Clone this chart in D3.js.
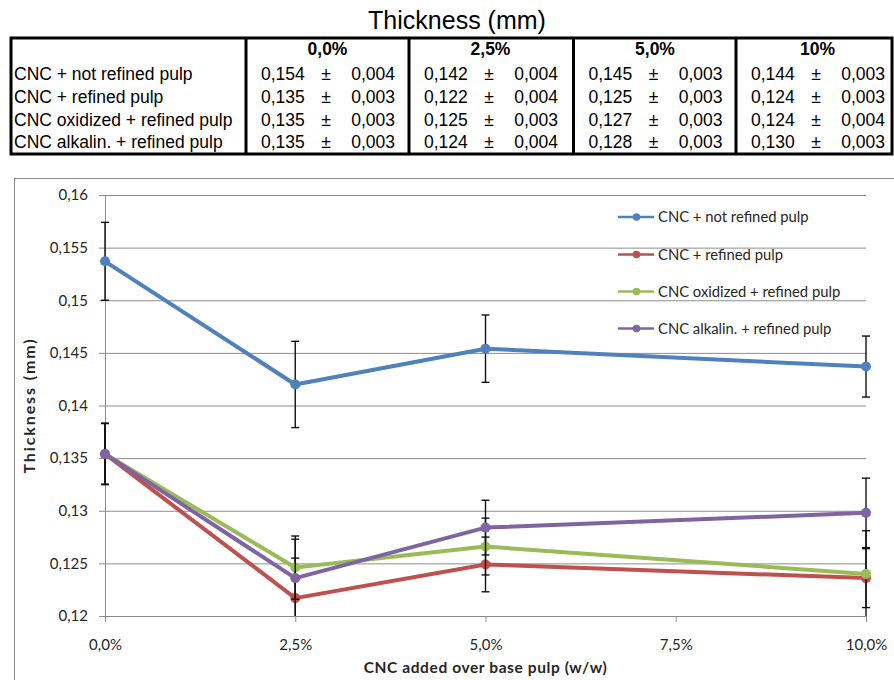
<!DOCTYPE html>
<html>
<head>
<meta charset="utf-8">
<script src="https://cdn.jsdelivr.net/npm/d3@7"></script>
<style>
  body { margin: 0; background: #fff; }
  svg { display: block; }
</style>
</head>
<body>
<div id="container"></div>
<script>
/* DATA */
const seriesNames = ["CNC + not refined pulp", "CNC + refined pulp", "CNC oxidized + refined pulp", "CNC alkalin. + refined pulp"];
const colors = ["#4F81BD", "#C0504D", "#9BBB59", "#8064A2"];
const cncLevels = [0, 2.5, 5, 10];
const xTicks = [0, 2.5, 5, 7.5, 10];
const yTicks = [0.12, 0.125, 0.13, 0.135, 0.14, 0.145, 0.15, 0.155, 0.16];

// plotted means and standard deviations
const notRefined = [0.1537, 0.1420, 0.1454, 0.1437];
const notRefinedSd = [0.0037, 0.0041, 0.0032, 0.0029];
const refined = [0.1354, 0.1217, 0.1249, 0.1236];
const refinedSd = [0.0029, 0.0038, 0.0026, 0.0028];
const oxidized = [0.1354, 0.1246, 0.1266, 0.1240];
const oxidizedSd = [0.0029, 0.0030, 0.0027, 0.0041];
const alkalin = [0.1354, 0.1236, 0.1284, 0.1298];
const alkalinSd = [0.0029, 0.0037, 0.0026, 0.0033];

// table (as printed)
const tableHeaders = ["0,0%", "2,5%", "5,0%", "10%"];
const tableMeans = [
  ["0,154", "0,142", "0,145", "0,144"],
  ["0,135", "0,122", "0,125", "0,124"],
  ["0,135", "0,125", "0,127", "0,124"],
  ["0,135", "0,124", "0,128", "0,130"]
];
const tableSd = [
  ["0,004", "0,004", "0,003", "0,003"],
  ["0,003", "0,004", "0,003", "0,003"],
  ["0,003", "0,003", "0,003", "0,004"],
  ["0,003", "0,004", "0,003", "0,003"]
];

const seriesValues = [notRefined, refined, oxidized, alkalin];
const seriesSd = [notRefinedSd, refinedSd, oxidizedSd, alkalinSd];

/* CONSTANTS */
const width = 894;
const height = 680;
const plot = { left: 105, right: 866, top: 195, bottom: 616 };
const chartFont = "Lato, 'Open Sans', sans-serif";
const tableFont = "'Liberation Sans', Arial, sans-serif";

const svg = d3.select("#container").append("svg")
  .attr("width", width)
  .attr("height", height);

/* TABLE */
const table = svg.append("g");
const colStarts = [246, 409, 573.5, 736];
const colW = 163;
const rowBase = 80, rowStep = 22.8;

table.append("text")
  .attr("x", 457).attr("y", 29)
  .attr("text-anchor", "middle")
  .attr("font-family", tableFont)
  .attr("font-size", 25)
  .text("Thickness (mm)");

table.append("rect")
  .attr("x", 11).attr("y", 38)
  .attr("width", 881).attr("height", 116)
  .attr("fill", "none").attr("stroke", "#000").attr("stroke-width", 3);

table.selectAll("line.col")
  .data(colStarts)
  .join("line")
  .attr("class", "col")
  .attr("x1", d => d).attr("x2", d => d)
  .attr("y1", 38).attr("y2", 154)
  .attr("stroke", "#000").attr("stroke-width", 3);

table.selectAll("text.head")
  .data(tableHeaders)
  .join("text")
  .attr("class", "head")
  .attr("x", (d, i) => colStarts[i] + colW / 2)
  .attr("y", 55)
  .attr("text-anchor", "middle")
  .attr("font-family", tableFont)
  .attr("font-weight", "bold")
  .attr("font-size", 17.5)
  .text(d => d);

seriesNames.forEach((name, r) => {
  const y = rowBase + r * rowStep;
  table.append("text")
    .attr("x", 14).attr("y", y)
    .attr("font-family", tableFont).attr("font-size", 17.5)
    .text(name);
  tableMeans[r].forEach((m, c) => {
    const x0 = colStarts[c];
    table.append("text")
      .attr("x", x0 + 15).attr("y", y)
      .attr("font-family", tableFont).attr("font-size", 17.5)
      .text(m);
    table.append("text")
      .attr("x", x0 + 80).attr("y", y)
      .attr("text-anchor", "middle")
      .attr("font-family", tableFont).attr("font-size", 17.5)
      .text("±");
    table.append("text")
      .attr("x", x0 + 149).attr("y", y)
      .attr("text-anchor", "end")
      .attr("font-family", tableFont).attr("font-size", 17.5)
      .text(tableSd[r][c]);
  });
});

/* CHART */
svg.append("rect")
  .attr("x", 14.5).attr("y", 178.5)
  .attr("width", 900).attr("height", 520)
  .attr("fill", "none").attr("stroke", "#8a8a8a");

const xScale = d3.scaleLinear().domain([0, 10]).range([plot.left, plot.right]);
const yScale = d3.scaleLinear().domain([0.12, 0.16]).range([plot.bottom, plot.top]);

const fmtY = d => String(+d.toFixed(3)).replace(".", ",");
const fmtX = d => d3.format(".1f")(d).replace(".", ",") + "%";

// gridlines
svg.append("g")
  .attr("transform", `translate(${plot.left},0)`)
  .call(d3.axisLeft(yScale).tickValues(yTicks).tickSize(-(plot.right - plot.left)).tickFormat(""))
  .call(g => g.select(".domain").remove())
  .call(g => g.selectAll("line").attr("stroke", "#8c8c8c"));

const yAxis = svg.append("g")
  .attr("transform", `translate(${plot.left},0)`)
  .call(d3.axisLeft(yScale).tickValues(yTicks).tickSize(6).tickPadding(11).tickFormat(fmtY));

const xAxis = svg.append("g")
  .attr("transform", `translate(0,${plot.bottom})`)
  .call(d3.axisBottom(xScale).tickValues(xTicks).tickSize(6).tickPadding(17).tickFormat(fmtX));

[yAxis, xAxis].forEach(ax => {
  ax.select(".domain").attr("stroke", "#8c8c8c");
  ax.selectAll(".tick line").attr("stroke", "#8c8c8c");
  ax.selectAll("text")
    .attr("font-family", chartFont)
    .attr("font-size", 15)
    .attr("fill", "#262626");
});

// axis titles
svg.append("text")
  .attr("x", (plot.left + plot.right) / 2).attr("y", 673)
  .attr("text-anchor", "middle")
  .attr("font-family", chartFont).attr("font-weight", "bold").attr("font-size", 15.5)
  .attr("letter-spacing", 0.6)
  .attr("fill", "#262626")
  .text("CNC added over base pulp (w/w)");

svg.append("text")
  .attr("transform", `translate(35,${(plot.top + plot.bottom) / 2}) rotate(-90)`)
  .attr("text-anchor", "middle")
  .attr("font-family", chartFont).attr("font-weight", "bold").attr("font-size", 16)
  .attr("letter-spacing", 1.9)
  .attr("fill", "#262626")
  .text("Thickness (mm)");

// series
const [yMin, yMax] = yScale.domain();
const line = d3.line().x(d => xScale(d.x)).y(d => yScale(d.v));

seriesValues.forEach((vals, s) => {
  const pts = vals.map((v, i) => ({ x: cncLevels[i], v: v, e: seriesSd[s][i] }));
  const g = svg.append("g");

  // error bars
  pts.forEach(p => {
    const cx = xScale(p.x);
    const lo = Math.max(p.v - p.e, yMin), hi = Math.min(p.v + p.e, yMax);
    g.append("line")
      .attr("x1", cx).attr("x2", cx)
      .attr("y1", yScale(lo)).attr("y2", yScale(hi))
      .attr("stroke", "#111").attr("stroke-width", 1.4);
    [p.v - p.e, p.v + p.e].forEach(end => {
      if (end < yMin || end > yMax) return;
      g.append("line")
        .attr("x1", cx - 4).attr("x2", cx + 4)
        .attr("y1", yScale(end)).attr("y2", yScale(end))
        .attr("stroke", "#111").attr("stroke-width", 1.4);
    });
  });

  g.append("path")
    .datum(pts)
    .attr("d", line)
    .attr("fill", "none")
    .attr("stroke", colors[s])
    .attr("stroke-width", 4)
    .attr("stroke-linejoin", "round");

  g.selectAll("circle")
    .data(pts)
    .join("circle")
    .attr("cx", d => xScale(d.x))
    .attr("cy", d => yScale(d.v))
    .attr("r", 5)
    .attr("fill", colors[s]);
});

// legend
const legend = svg.append("g");
const legendY = [217, 254.5, 291.5, 328.5];
seriesNames.forEach((name, i) => {
  const item = legend.append("g").attr("transform", `translate(618,${legendY[i]})`);
  item.append("line")
    .attr("x1", 0).attr("x2", 36)
    .attr("stroke", colors[i]).attr("stroke-width", 2.5);
  item.append("circle")
    .attr("cx", 18.5).attr("r", 3.8)
    .attr("fill", colors[i]);
  item.append("text")
    .attr("x", 40).attr("dy", "0.35em")
    .attr("font-family", chartFont).attr("font-size", 14.8)
    .attr("fill", "#262626")
    .text(name);
});
</script>
</body>
</html>
